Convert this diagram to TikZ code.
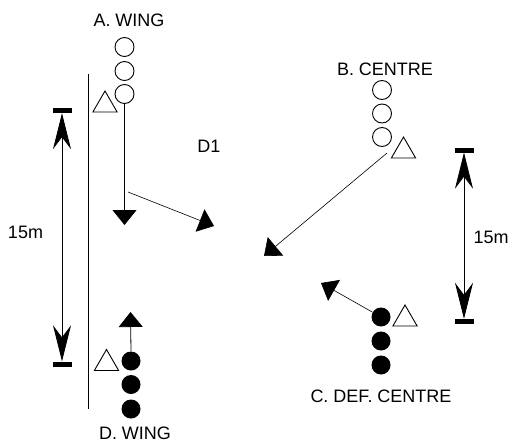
\documentclass[tikz,border=0pt]{standalone}
\usepackage{fontspec}
\setmainfont{Liberation Sans}
\usetikzlibrary{arrows.meta,shapes.geometric}
\tikzset{
  lbl/.style={anchor=base,inner sep=0pt,font=\fontsize{18}{20}\selectfont},
  opencirc/.style={circle,draw,line width=0.9pt,minimum size=19pt,inner sep=0pt},
  fullcirc/.style={circle,fill=black,minimum size=19pt,inner sep=0pt},
  tri/.style={regular polygon,regular polygon sides=3,draw,line width=0.9pt,minimum size=28pt,inner sep=0pt},
  bar/.style={rectangle,fill=black,minimum width=19pt,minimum height=5pt,inner sep=0pt},
  run/.style={line width=0.8pt,-{Triangle[width=24pt,length=15pt]}},
  dim/.style={line width=0.8pt,{Stealth[width=18pt,length=36pt,inset=12pt]}-{Stealth[width=18pt,length=36pt,inset=12pt]}},
  wall/.style={line width=0.9pt}
}
\begin{document}
\begin{tikzpicture}[x=1pt,y=-1pt]
\useasboundingbox (0,0) rectangle (510,444);
% labels
\node[lbl] (lA) at (129,27) {A. WING};
\node[lbl] (lB) at (385,75) {B. CENTRE};
\node[lbl] (lC) at (381,402) {C. DEF. CENTRE};
\node[lbl] (lD) at (135,439.5) {D. WING};
\node[lbl] (lD1) at (209,152) {D1};
\node[lbl] (l15a) at (25.5,238) {15m};
\node[lbl] (l15b) at (491,243) {15m};
% A group
\node[opencirc] (a1) at (124.5,47) {};
\node[opencirc] (a2) at (124.5,71) {};
\node[opencirc] (a3) at (124.5,94) {};
\node[tri] (ta) at (105,105) {};
% B group
\node[opencirc] (b1) at (382,90) {};
\node[opencirc] (b2) at (382,113.5) {};
\node[opencirc] (b3) at (382,137) {};
\node[tri] (tb) at (403.5,151) {};
% C group
\node[fullcirc] (c1) at (381,317) {};
\node[fullcirc] (c2) at (381,341) {};
\node[fullcirc] (c3) at (381,365) {};
\node[tri] (tc) at (405,319) {};
% D group
\node[fullcirc] (d1) at (131,361) {};
\node[fullcirc] (d2) at (131,384.5) {};
\node[fullcirc] (d3) at (131,409) {};
\node[tri] (td) at (106.5,363.5) {};
% side line
\coordinate (wtop) at (88,74);
\coordinate (wbot) at (88,409);
\draw[wall] (wtop) -- (wbot);
% dimension bars
\node[bar] (barLt) at (62,110.5) {};
\node[bar] (barLb) at (62,364) {};
\node[bar] (barRt) at (464,150) {};
\node[bar] (barRb) at (464,321.5) {};
\draw[dim] (barLt.south) -- (barLb.north);
\draw[dim] (barRt.south) -- (barRb.north);
% runs
\coordinate (atip) at (124.5,225);
\coordinate (adiag) at (128,192);
\coordinate (adtip) at (214,226);
\coordinate (bstart) at (387,153);
\coordinate (btip) at (264,256);
\coordinate (ctip) at (321,283);
\coordinate (dtip) at (130.5,312);
\draw[run] (a3.south) -- (atip);
\draw[run,line width=0.6pt] (adiag) -- (adtip);
\draw[run,line width=0.6pt] (bstart) -- (btip);
\draw[run,line width=0.6pt] (c1) -- (ctip);
\draw[run] (d1.north) -- (dtip);
\end{tikzpicture}
\end{document}
